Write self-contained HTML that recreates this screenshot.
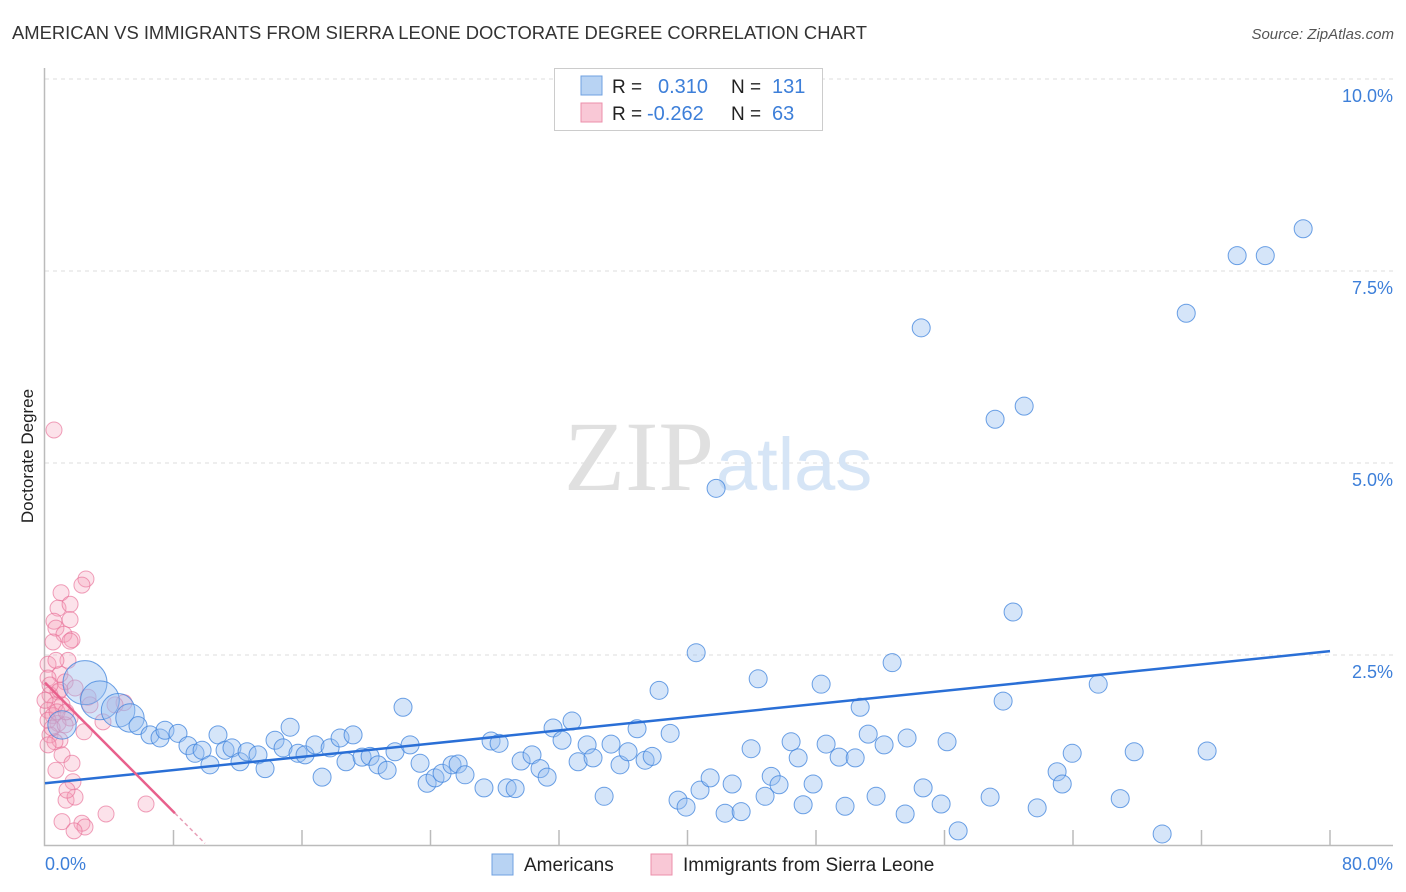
<!DOCTYPE html>
<html><head><meta charset="utf-8"><style>
body{margin:0;background:#fff;font-family:"Liberation Sans",sans-serif}
svg{display:block}
</style></head><body>
<svg id="c" width="1406" height="892">
<text x="12" y="39" font-size="18.4" fill="#333">AMERICAN VS IMMIGRANTS FROM SIERRA LEONE DOCTORATE DEGREE CORRELATION CHART</text>
<text x="1394" y="39" font-size="15" fill="#555" font-style="italic" text-anchor="end">Source: ZipAtlas.com</text>
<g id="grid"></g>
<text x="714" y="490" font-size="100" font-family="Liberation Serif,serif" fill="#e0e0e0" text-anchor="end">ZIP</text>
<text x="716" y="490" font-size="74" fill="#d6e5f6">atlas</text>
<g id="pts"></g>
<g id="lines"></g>
<text x="33" y="456" font-size="17" fill="#222" text-anchor="middle" transform="rotate(-90 33 456)">Doctorate Degree</text>
<text x="45" y="870" font-size="18" fill="#3d7fd9">0.0%</text>
<text x="1393" y="870" font-size="18" fill="#3d7fd9" text-anchor="end">80.0%</text>
<g>
<rect x="554.5" y="68.5" width="268" height="62" fill="#fff" stroke="#ccc"/>
<rect x="581" y="76" width="21" height="19" fill="#b8d3f3" stroke="#6fa0e0"/>
<rect x="581" y="103" width="21" height="19" fill="#f9c8d6" stroke="#ec8fab"/>
<text x="612" y="93" font-size="19" fill="#222">R =</text><text x="658" y="93" font-size="20" fill="#3d7fd9">0.310</text>
<text x="731" y="93" font-size="19" fill="#222">N =</text><text x="772" y="93" font-size="20" fill="#3d7fd9">131</text>
<text x="612" y="120" font-size="19" fill="#222">R =</text><text x="647" y="120" font-size="20" fill="#3d7fd9">-0.262</text>
<text x="731" y="120" font-size="19" fill="#222">N =</text><text x="772" y="120" font-size="20" fill="#3d7fd9">63</text>
</g>
<g>
<rect x="492" y="854" width="21" height="21" fill="#b8d3f3" stroke="#6fa0e0"/>
<text x="524" y="871" font-size="19" fill="#222">Americans</text>
<rect x="651" y="854" width="21" height="21" fill="#f9c8d6" stroke="#ec8fab"/>
<text x="683" y="871" font-size="19" fill="#222">Immigrants from Sierra Leone</text>
</g>
</svg>
<script>
const yTicks=[2.5,5.0,7.5,10.0];
const yTickLabels=["2.5%","5.0%","7.5%","10.0%"];
const blueX=[2.49,3.42,4.55,1.06,5.29,5.79,6.54,7.16,7.47,8.28,8.90,9.34,9.78,10.27,10.77,11.21,11.64,12.14,12.58,13.26,13.70,14.32,14.82,15.26,15.75,16.19,16.81,17.25,17.75,18.37,18.74,19.18,19.74,20.24,20.73,21.30,21.79,22.29,22.73,23.35,23.79,24.28,24.72,25.34,25.72,26.15,27.33,27.77,28.27,28.77,29.27,29.64,30.32,30.82,31.26,31.63,32.19,32.81,33.19,33.75,34.12,34.81,35.24,35.80,36.30,36.86,37.36,37.80,38.23,38.92,39.41,39.91,40.54,40.78,41.41,41.78,42.34,42.78,43.34,43.96,44.40,44.83,45.21,45.70,46.45,46.89,47.20,47.82,48.32,48.63,49.44,49.81,50.44,50.75,51.25,51.74,52.24,52.74,53.55,53.67,54.55,54.67,55.79,56.16,56.85,59.15,58.84,59.65,60.27,60.96,61.77,63.01,63.33,63.95,65.57,66.94,67.81,69.55,71.05,72.35,74.22,75.97,78.33];
const blueY=[2.14,1.91,1.78,1.59,1.68,1.58,1.46,1.42,1.52,1.48,1.32,1.22,1.26,1.07,1.46,1.26,1.29,1.11,1.24,1.20,1.02,1.39,1.29,1.56,1.22,1.20,1.33,0.91,1.29,1.42,1.11,1.46,1.17,1.18,1.07,1.00,1.24,1.82,1.33,1.09,0.83,0.90,0.96,1.07,1.08,0.94,0.77,1.38,1.35,0.77,0.76,1.12,1.20,1.02,0.91,1.55,1.39,1.64,1.11,1.33,1.16,0.66,1.34,1.07,1.24,1.54,1.13,1.18,2.04,1.48,0.61,0.52,2.53,0.74,0.90,4.67,0.44,0.82,0.46,1.28,2.19,0.66,0.92,0.81,1.37,1.16,0.55,0.82,2.12,1.34,1.17,0.53,1.16,1.82,1.47,0.66,1.33,2.40,0.43,1.42,6.76,0.77,0.56,1.37,0.21,5.57,0.65,1.90,3.06,5.74,0.51,0.98,0.82,1.22,2.12,0.63,1.24,0.17,6.95,1.25,7.70,7.70,8.05];
const blueWeight=[6,5,4,3,3];
const pinkX=[0.56,2.55,2.30,1.00,0.81,1.56,0.56,1.56,0.68,1.18,1.68,0.50,1.56,1.43,0.19,0.93,0.19,1.25,0.81,0.31,1.87,1.06,0.62,0.19,1.56,0.50,0.81,0.31,0.93,0.62,1.06,2.68,3.61,2.80,4.92,4.36,2.43,1.68,0.68,1.74,1.31,1.87,1.37,1.06,2.30,2.49,1.81,3.80,6.29,0.19,0.44,1.25,0,0.93,0.31,0.68,0.75,1.31,0.19];
const pinkY=[5.43,3.49,3.41,3.31,3.11,3.16,2.94,2.96,2.85,2.77,2.70,2.67,2.68,2.43,2.38,2.25,2.20,2.15,2.02,1.98,2.07,1.85,1.85,1.78,1.68,1.71,1.61,1.46,1.39,1.37,1.20,1.95,1.63,1.85,1.88,1.85,1.50,1.09,1.00,0.85,0.61,0.65,0.74,0.33,0.31,0.26,0.21,0.43,0.56,1.65,1.55,1.59,1.91,2.04,2.11,2.43,1.76,1.76,1.33];
const blueTrend=[0.83,2.55];
const pinkTrend=[2.14,0.44,8.09,9.96];

const NS="http://www.w3.org/2000/svg";
const X0=45,X1=1330,Y0=847,PX=(X1-X0)/80,PY=76.8;
const sx=v=>X0+v*PX, sy=v=>Y0-v*PY;
function mk(t,a,p){const e=document.createElementNS(NS,t);for(const k in a)e.setAttribute(k,a[k]);p.appendChild(e);return e;}
const grid=document.getElementById('grid');
yTicks.forEach((t,i)=>{
  const l=mk('line',{x1:45,x2:1393,y1:sy(t),y2:sy(t),stroke:'#ddd','stroke-dasharray':'4,4'},grid);
  
  
  const tx=mk('text',{x:1393,y:sy(t)+23,'font-size':18,fill:'#3d7fd9','text-anchor':'end'},grid);
  tx.textContent=yTickLabels[i];
  
  
});
const ax=mk('path',{d:'M44.5 68V845.5H1393',fill:'none',stroke:'#bbb','stroke-width':1.5},grid);


for(let k=1;k<=10;k++){
  const tk=mk('line',{x1:sx(k*8),x2:sx(k*8),y1:830,y2:845,stroke:'#bbb','stroke-width':1.5},grid);
  
  
}
const pts=document.getElementById('pts');
pinkX.forEach((x,i)=>{
  const c=mk('circle',{cx:sx(x),cy:sy(pinkY[i]),r:8,fill:'rgba(246,160,186,0.3)',stroke:'rgba(232,110,150,0.65)'},pts);
  
  
});
blueX.forEach((x,i)=>{
  const w=blueWeight[i]||1;
  const c=mk('circle',{cx:sx(x),cy:sy(blueY[i]),r:9+(w-1)*2.6,fill:'rgba(150,190,240,0.4)',stroke:'rgba(60,130,220,0.75)'},pts);
  
  
});
const lines=document.getElementById('lines');
const bl=mk('line',{x1:sx(0),y1:sy(blueTrend[0]),x2:sx(80),y2:sy(blueTrend[1]),stroke:'#2a6fd6','stroke-width':2.5},lines);


const slope=(pinkTrend[1]-pinkTrend[0])/pinkTrend[2];
const pl=mk('line',{x1:sx(0),y1:sy(pinkTrend[0]),x2:sx(pinkTrend[2]),y2:sy(pinkTrend[1]),stroke:'#e8608c','stroke-width':2.5},lines);


const pd=mk('line',{x1:sx(pinkTrend[2]),y1:sy(pinkTrend[1]),x2:sx(pinkTrend[3]),y2:sy(pinkTrend[0]+slope*pinkTrend[3]),stroke:'#e8a0b8','stroke-width':1.5,'stroke-dasharray':'4,3'},lines);


</script>
</body></html>
